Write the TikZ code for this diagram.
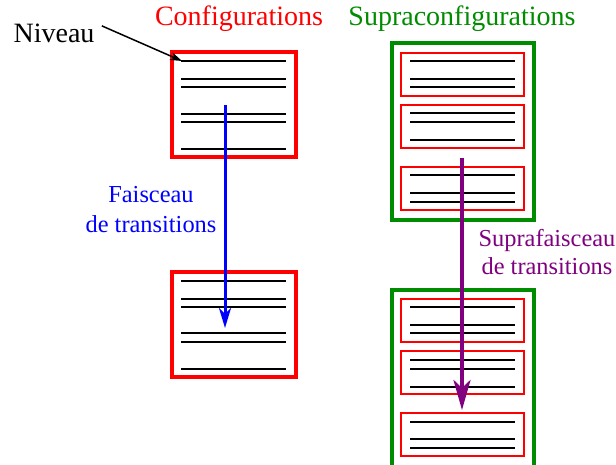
\documentclass[tikz,border=0pt]{standalone}
\usepackage{fontspec}
\setmainfont{Liberation Serif}
\usetikzlibrary{arrows.meta}

\definecolor{supragreen}{RGB}{0,140,0}
\definecolor{suprapurple}{RGB}{128,0,128}

\begin{document}
\begin{tikzpicture}[x=0.5pt,y=-0.5pt,
    config/.style={draw=red, line width=1.75pt},
    subconfig/.style={draw=red, line width=1.3pt},
    supra/.style={draw=supragreen, line width=2pt},
    level/.style={line width=0.7pt},
    lbl/.style={font=\fontsize{14}{15.5}\selectfont, inner sep=0pt, anchor=base},
    smalllbl/.style={font=\fontsize{12.2}{14}\selectfont, inner sep=0pt, anchor=base}]

\useasboundingbox (0,0) rectangle (616,465);

\coordinate (lvl) at (182,61);
\coordinate (fa)  at (225,105);
\coordinate (fb)  at (225,328);
\coordinate (sa)  at (462,158);
\coordinate (sb)  at (462,410);

% configurations
\draw [config] (172,52) rectangle (296,157);
\draw [config] (172,272) rectangle (296,377);

\foreach \y in {61,79,87,114,122,149,281,299,307,333,342,369}
    \draw [level] (181,\y) -- (286,\y);

% supraconfigurations
\draw [supra] (392,43) rectangle (534,220);
\draw [supra] (392,290) rectangle (534,470);

\foreach \t in {53,105,167,299,351,413}
    \draw [subconfig] (401,\t) rectangle (524,\t+43);

\foreach \y in {61,79,87,113,122,140,175,193,202,307,325,333,360,369,387,422,439,448}
    \draw [level] (410,\y) -- (515,\y);

% labels
\node [lbl, text=red]         (conf)      at (239,26) {Configurations};
\node [lbl, text=supragreen]  (supraconf) at (462,26) {Supraconfigurations};
\node [lbl]                   (niveau)    at (54,43)  {Niveau};

\node [smalllbl, text=blue]        (faisc)    at (151,202) {Faisceau};
\node [smalllbl, text=blue]        (faisctr)  at (151,233) {de transitions};
\node [smalllbl, text=suprapurple] (sfaisc)   at (547,246) {Suprafaisceau};
\node [smalllbl, text=suprapurple] (sfaisctr) at (547,274) {de transitions};

% arrows
\draw [line width=0.75pt, -{Stealth[length=6pt,width=4pt]}]
    ([xshift=3.5pt,yshift=4pt]niveau.east) -- (lvl);
\draw [blue, line width=1.5pt, -{Stealth[length=10pt,width=6pt,inset=3pt]}] (fa) -- (fb);
\draw [suprapurple, line width=2pt, -{Stealth[length=15pt,width=8.5pt,inset=4pt]}] (sa) -- (sb);

\end{tikzpicture}
\end{document}
